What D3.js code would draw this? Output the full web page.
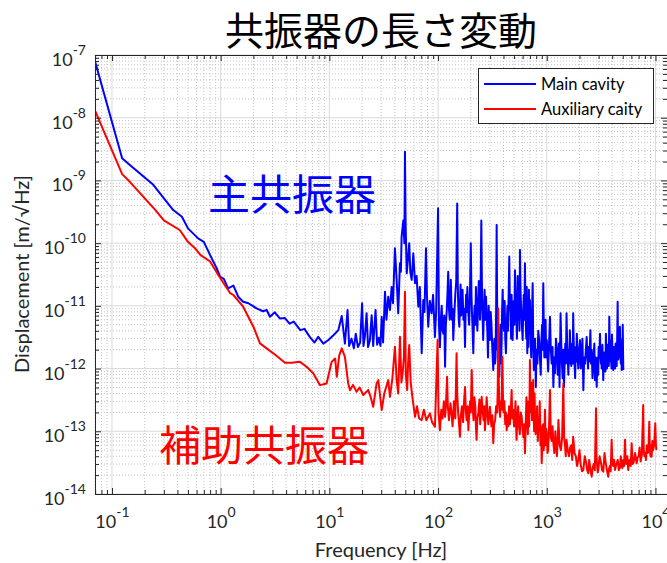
<!DOCTYPE html>
<html>
<head>
<meta charset="utf-8">
<script src="https://cdn.jsdelivr.net/npm/d3@7"></script>
<style>
  html, body { margin: 0; padding: 0; background: #fff; }
  svg { display: block; }
</style>
</head>
<body>
<svg id="chart" width="667" height="563"></svg>
<script>
// Displacement spectral density of the two cavities, [frequency Hz, displacement m/√Hz]
const mainCavity = [
  [0.07, 7.8e-8], [0.124, 2.25e-9], [0.146, 1.76e-9], [0.24, 8.5e-10], [0.366, 3.37e-10],
  [0.44, 2.64e-10], [0.50, 1.72e-10], [0.62, 1.19e-10], [0.70, 1.05e-10], [0.80, 6.45e-11],
  [0.92, 3.96e-11], [0.99, 2.9e-11], [1.07, 2.7e-11], [1.17, 1.9e-11], [1.31, 2.1e-11],
  [1.45, 1.4e-11], [1.61, 1.16e-11], [1.8, 1.1e-11], [2.14, 9.1e-12], [2.45, 8.2e-12],
  [2.65, 8.6e-12], [2.84, 6.7e-12], [3.15, 7.9e-12], [3.5, 6.3e-12], [3.9, 6.4e-12],
  [4.3, 5.2e-12], [4.7, 5.6e-12], [5.4, 4.1e-12], [5.9, 4.3e-12], [6.6, 3.2e-12],
  [7.3, 2.6e-12], [7.9, 3.2e-12], [8.8, 2.5e-12], [9.8, 2.85e-12], [10.9, 3.4e-12],
  [12.1, 4.1e-12], [13.0, 6.9e-12], [13.9, 2.5e-12], [14.7, 8.6e-12], [15.2, 2.3e-12],
  [16.0, 3.0e-12], [16.8, 2.1e-12], [17.5, 3.6e-12], [18.3, 2.2e-12], [19.2, 2.6e-12],
  [20.0, 1.1e-11], [20.6, 2.3e-12], [21.2, 3.2e-12], [22.0, 7.6e-12], [22.7, 2.2e-12],
  [23.6, 2.8e-12], [24.5, 7.1e-12], [25.3, 2.3e-12], [26.6, 8.6e-12], [27.5, 2.4e-12],
  [28.5, 3.1e-12], [29.5, 2.3e-12], [30.3, 6.7e-12], [31.2, 2.6e-12], [32.5, 1.68e-11],
  [33.5, 6e-12], [34.8, 1.4e-11], [36.1, 8.6e-12], [37.4, 2.0e-11], [38.5, 1.1e-11],
  [40.1, 8.3e-11], [41.6, 2.6e-11], [43.0, 7.6e-12], [44.6, 4.8e-11], [45.5, 3.5e-11],
  [46.2, 1.26e-10], [47.9, 2.3e-10], [49.0, 1.0e-10], [49.6, 2.87e-9], [50.3, 2.0e-10],
  [51.5, 3.3e-11], [53.0, 6e-11], [54.3, 1.0e-10], [55.5, 3.5e-11], [57.2, 2.6e-11],
  [59.2, 6.9e-11], [61.4, 2.3e-11], [63.5, 3.0e-11], [65.8, 9.7e-12], [68, 2.0e-11],
  [70.7, 1.75e-12], [73.1, 1.24e-11], [75, 8e-12], [77.4, 8.3e-11], [79, 1.5e-11],
  [81.2, 4.65e-12], [84, 1.2e-11], [87.2, 7.6e-12], [90, 1.5e-11], [93.6, 3.2e-12],
  [96, 8e-12], [100, 3.6e-10], [102, 5e-12], [104, 2.2e-12], [106, 6e-12], [108, 1.0e-11],
  [110, 4e-12], [112, 3.6e-12], [114, 7e-12], [116, 1.07e-12], [118, 5e-12], [120, 8e-12],
  [122, 1.5e-11], [124, 3.5e-11], [126, 9e-12], [128, 6e-12], [130, 1.4e-11], [131, 2.6e-11],
  [134, 6e-12], [136, 9e-12], [138, 2.85e-12], [141, 7e-12], [144, 1.5e-11], [147, 2.5e-11],
  [150, 4.3e-10], [152, 2.0e-11], [153, 1.2e-11], [155, 6e-12], [157, 4.65e-12], [159, 1.0e-11],
  [161, 2.2e-11], [163, 7e-12], [165, 1.24e-11], [168, 1.8e-11], [171, 6e-12], [174, 9e-12],
  [177, 2.2e-12], [179, 7e-12], [181, 1.5e-11], [183, 8e-12], [186, 2.0e-11], [189, 9e-12],
  [193, 5e-12], [196, 1.2e-11], [200, 1.0e-10], [203, 1.5e-11], [205, 8e-12], [208, 4e-12],
  [211, 1.75e-12], [214, 6e-12], [217, 1.0e-11], [220, 5e-12], [223, 2.0e-11], [226, 8e-12],
  [230, 4e-12], [233, 1.0e-11], [237, 2.5e-11], [240, 1.2e-11], [243, 6e-12], [246, 1.5e-11],
  [250, 2.3e-10], [253, 2.5e-11], [255, 9e-12], [258, 5e-12], [260, 2.85e-12], [264, 8e-12],
  [268, 1.8e-11], [272, 6e-12], [276, 1.4e-11], [280, 7e-12], [284, 4e-12], [288, 1.5e-12],
  [292, 1.0e-11], [296, 5e-12], [300, 2.85e-12], [305, 8e-12], [310, 5e-12], [316, 2e-12],
  [322, 9.5e-13], [326, 2e-12], [330, 3e-12], [334, 1.2e-12], [338, 1.5e-12], [342, 8e-12],
  [346, 1.94e-10], [349, 1.5e-11], [352, 2.0e-12], [356, 4e-12], [359, 1.2e-12], [362, 3e-12],
  [366, 7.4e-13], [370, 2e-12], [375, 5e-12], [380, 1.2e-12], [384, 2.5e-12], [388, 8e-12],
  [393, 1.8e-11], [398, 6e-12], [405, 4e-12], [410, 1.2e-11], [415, 3e-12], [421, 1.75e-12],
  [428, 5e-12], [435, 1.0e-11], [440, 4e-12], [446, 1.5e-11], [452, 6.1e-11], [458, 1.0e-11],
  [465, 8e-12], [470, 3e-12], [475, 1.5e-11], [480, 5e-12], [485, 2.85e-12], [491, 7e-12],
  [497, 1.2e-11], [503, 5e-12], [510, 3.7e-11], [517, 1.2e-11], [525, 6e-12], [532, 3e-12],
  [540, 3e-11], [547, 6e-12], [555, 1.0e-11], [561, 4e-12], [567, 7.8e-11], [573, 2e-11],
  [580, 1.0e-11], [590, 5e-12], [600, 2.85e-12], [607, 8e-12], [615, 1.5e-11], [622, 6e-12],
  [630, 4.8e-11], [636, 1.2e-11], [642, 5e-12], [648, 3e-12], [654, 2.0e-11], [658, 6e-12],
  [662, 1.75e-12], [670, 5e-12], [677, 2.2e-12], [685, 1.8e-11], [692, 4e-12], [700, 1.24e-11],
  [710, 3e-12], [720, 1.5e-12], [730, 6e-12], [742, 2.3e-11], [750, 3e-12], [760, 9.5e-13],
  [770, 2.5e-12], [780, 3e-12], [787, 1.2e-12], [793, 5.1e-13], [805, 2e-12], [820, 1.2e-12],
  [835, 4e-12], [850, 3.0e-12], [865, 1.5e-12], [880, 8e-13], [892, 2.5e-12], [905, 5e-12],
  [915, 2e-12], [929, 2.3e-11], [940, 4e-12], [950, 1.5e-12], [962, 2.5e-12], [975, 6e-12],
  [988, 1.5e-12], [1000, 2.85e-12], [1015, 1.8e-12], [1030, 9e-13], [1050, 2.5e-12],
  [1070, 6.7e-12], [1090, 2e-12], [1110, 1.2e-12], [1130, 2.2e-12], [1150, 5.1e-13],
  [1170, 1.5e-12], [1190, 8.4e-13], [1215, 3e-12], [1240, 2.0e-12], [1260, 8e-13],
  [1280, 1.2e-12], [1295, 2.5e-12], [1310, 5.1e-13], [1325, 2e-12], [1340, 7.6e-12],
  [1370, 1.5e-12], [1400, 7e-13], [1420, 2e-12], [1440, 5.1e-13], [1460, 1.2e-12],
  [1480, 2.5e-12], [1500, 1.2e-12], [1520, 7.6e-12], [1540, 2.5e-12], [1560, 1.5e-12],
  [1580, 8e-13], [1600, 2.0e-12], [1615, 1.2e-12], [1630, 4.1e-12], [1655, 2e-12],
  [1680, 1.1e-12], [1700, 1.8e-12], [1720, 2.5e-12], [1735, 1.2e-12], [1750, 7.6e-12],
  [1775, 2.2e-12], [1800, 1.2e-12], [1825, 7e-13], [1850, 2.2e-12], [1870, 1.3e-12],
  [1890, 3.6e-12], [1920, 1.8e-12], [1950, 1.0e-12], [1985, 1.8e-12], [2020, 2.85e-12],
  [2055, 1.0e-12], [2090, 1.54e-12], [2110, 2.2e-12], [2130, 3e-12], [2150, 1.2e-12],
  [2170, 4.5e-13], [2210, 1.5e-12], [2250, 1.2e-12], [2290, 2.0e-12], [2330, 3.2e-12],
  [2365, 1.5e-12], [2400, 1.0e-12], [2425, 2.2e-12], [2450, 1.3e-12], [2485, 2e-12],
  [2520, 4.1e-12], [2555, 1.2e-12], [2590, 2.0e-12], [2635, 7e-13], [2680, 1.2e-12],
  [2710, 1.8e-12], [2740, 2.5e-12], [2760, 1.2e-12], [2780, 6.5e-13], [2830, 1.5e-12],
  [2880, 5.1e-13], [2915, 1.2e-12], [2950, 1.5e-12], [2975, 8e-13], [3000, 2.2e-12],
  [3045, 1.5e-12], [3090, 3.6e-12], [3120, 1.5e-12], [3150, 1.2e-12], [3175, 2e-12],
  [3200, 1.0e-12], [3225, 1.6e-12], [3250, 2.4e-12], [3280, 1.2e-12], [3310, 6.5e-13],
  [3370, 1.8e-12], [3430, 1.54e-12], [3465, 9e-13], [3500, 3.6e-12], [3540, 1.8e-12],
  [3580, 1.0e-12], [3630, 2.4e-12], [3680, 1.75e-12], [3720, 1.1e-12], [3760, 6.7e-12],
  [3795, 2.5e-12], [3830, 1.3e-12], [3865, 2.8e-12], [3900, 1.5e-12], [3940, 1.0e-12],
  [3980, 3.5e-12], [4035, 1.6e-12], [4090, 9.5e-13], [4145, 2.2e-12], [4200, 1.8e-12],
  [4250, 1.0e-12], [4300, 2.5e-12], [4350, 1.5e-12], [4400, 1.1e-12], [4445, 3e-12],
  [4490, 1.16e-11], [4520, 2.5e-12], [4550, 1.4e-12], [4575, 2.2e-12], [4600, 1.5e-12],
  [4655, 2.5e-12], [4710, 4.65e-12], [4755, 2e-12], [4800, 1.2e-12], [4845, 2.5e-12],
  [4890, 9.5e-13], [4920, 1.8e-12], [4950, 3e-12], [4975, 1.5e-12], [5000, 5e-12],
  [5030, 2e-12], [5060, 9.5e-13]
];

const auxCavity = [
  [0.07, 1.29e-8], [0.124, 1.26e-9], [0.146, 9.5e-10], [0.25, 3.4e-10], [0.30, 2.3e-10],
  [0.42, 1.62e-10], [0.50, 1.05e-10], [0.58, 8.3e-11], [0.65, 6.5e-11], [0.80, 5.1e-11],
  [0.95, 3.1e-11], [1.22, 1.6e-11], [1.31, 1.49e-11], [1.61, 9.7e-12], [2.0, 4.65e-12],
  [2.3, 2.52e-12], [2.65, 2.1e-12], [3.05, 1.75e-12], [3.5, 1.45e-12], [3.9, 1.24e-12],
  [4.5, 1.24e-12], [5.37, 1.28e-12], [6.17, 1.07e-12], [7.1, 8.4e-13], [8.18, 5.45e-13],
  [9.43, 5.8e-13], [10.5, 1.28e-12], [11.3, 1.45e-12], [11.7, 7.4e-13], [12.3, 1.6e-12],
  [13.0, 2.1e-12], [13.9, 1.54e-12], [14.9, 5.8e-13], [15.5, 4.5e-13], [16.5, 5.5e-13],
  [17.8, 4.27e-13], [19, 5e-13], [20.5, 3.78e-13], [22.8, 4.54e-13], [24, 3.5e-13],
  [25.3, 2.46e-13], [27.2, 5.8e-13], [28.2, 6.55e-13], [30.3, 2.18e-13], [32, 4e-13],
  [34.8, 6.55e-13], [36.1, 3.55e-13], [38, 7e-13], [40.1, 2.23e-12], [41.6, 6.55e-13],
  [43, 4e-13], [44.6, 3.21e-12], [46, 6e-13], [47.2, 8.4e-13], [48.5, 1.5e-12],
  [49.6, 1.68e-11], [50.5, 8e-13], [52, 4.54e-13], [53, 1.2e-12], [54.3, 2.37e-12],
  [56, 6e-13], [58, 3.55e-13], [61.4, 1.7e-13], [64, 2.5e-13], [67, 1.6e-13],
  [70.7, 1.51e-13], [74, 2.2e-13], [78, 1.5e-13], [84.2, 1.93e-13], [88, 1.4e-13],
  [93.6, 1.18e-13], [99, 2.85e-12], [101, 2e-13], [104, 1.04e-13], [107, 2.2e-13],
  [110, 1.6e-13], [113, 3e-13], [116, 1.7e-13], [118, 2.5e-13], [121, 7.4e-13], [123, 2.5e-13],
  [126, 1.5e-13], [130, 2.8e-13], [133, 1.93e-13], [136, 1.2e-13], [140, 3e-13], [144, 1.6e-13],
  [148, 1.75e-12], [150, 4e-13], [153, 2e-13], [156, 1.3e-13], [159, 8.2e-14], [162, 1.8e-13],
  [166, 2.5e-13], [170, 1.4e-13], [173, 2.8e-13], [177, 5.1e-13], [180, 2.2e-13], [183, 1.5e-13],
  [187, 2.5e-13], [190, 1.04e-13], [193, 1.8e-13], [197, 3e-13], [200, 2e-13], [204, 9.45e-13],
  [208, 2.5e-13], [212, 1.5e-13], [216, 3.5e-13], [220, 2.5e-13], [223, 1.2e-13], [226, 7.3e-14],
  [230, 1.6e-13], [235, 2e-13], [240, 3.2e-13], [244, 1.3e-13], [248, 2e-13], [252, 3.55e-13],
  [257, 2.2e-13], [262, 1.5e-13], [266, 2.5e-13], [270, 1.04e-13], [275, 1.8e-13], [280, 3.5e-13],
  [285, 2e-13], [290, 1.3e-13], [295, 1.8e-13], [300, 2.46e-13], [305, 1.6e-13], [310, 1.2e-13],
  [316, 1.8e-13], [322, 6.45e-14], [328, 1.3e-13], [335, 1.5e-13], [342, 2.5e-13], [350, 2e-13],
  [354, 5e-13], [358, 9.1e-12], [362, 6e-13], [367, 2.5e-13], [372, 1.7e-13], [378, 3e-13],
  [384, 2.2e-13], [390, 1.54e-12], [395, 4e-13], [400, 2e-13], [407, 3e-13], [415, 1.3e-13],
  [421, 2e-13], [428, 1.04e-13], [436, 1.8e-13], [443, 1.2e-13], [450, 2.5e-13], [458, 1.3e-13],
  [466, 2e-13], [475, 4.54e-13], [482, 1.6e-13], [490, 2.2e-13], [500, 1.2e-13], [508, 1.8e-13],
  [516, 3e-13], [522, 1.2e-13], [528, 7.3e-14], [535, 1.5e-13], [545, 2.5e-13], [555, 1.2e-13],
  [565, 9e-14], [576, 2e-13], [588, 1.7e-13], [598, 1.1e-13], [610, 8e-14], [620, 1.3e-13],
  [630, 4.46e-14], [640, 1.2e-13], [650, 3.5e-13], [660, 2e-13], [670, 9e-14], [680, 3e-13],
  [690, 1.2e-13], [700, 1.37e-12], [705, 4e-13], [712, 2e-13], [718, 6e-13], [725, 3e-13],
  [732, 1.5e-13], [740, 2.5e-13], [750, 6.55e-13], [758, 1.8e-13], [765, 1e-13], [773, 4e-13],
  [780, 1.5e-13], [790, 9e-14], [798, 2e-13], [805, 1.34e-13], [815, 2.5e-13], [828, 7e-14],
  [840, 1.6e-13], [850, 1.0e-13], [862, 3e-13], [875, 6e-14], [886, 1.2e-13], [898, 3.09e-14],
  [910, 6e-14], [925, 1.3e-13], [938, 5e-14], [950, 8e-14], [962, 2.2e-13], [975, 6e-14],
  [987, 1.1e-13], [1000, 9.3e-14], [1015, 4.5e-14], [1030, 5e-14], [1050, 1.2e-13],
  [1070, 4.54e-13], [1090, 8e-14], [1110, 7e-14], [1130, 1.2e-13], [1150, 6.45e-14],
  [1175, 4.5e-14], [1200, 1.0e-13], [1220, 6e-14], [1240, 4e-14], [1260, 7e-14],
  [1280, 1.51e-13], [1315, 6e-14], [1350, 5e-14], [1385, 8e-14], [1420, 5.8e-13],
  [1445, 8e-14], [1470, 6e-14], [1495, 4e-14], [1520, 7.3e-14], [1560, 5e-14], [1600, 4e-14],
  [1640, 5.5e-14], [1680, 6e-14], [1715, 3.5e-14], [1750, 8.2e-14], [1800, 4.5e-14],
  [1850, 4e-14], [1900, 2.8e-14], [1950, 3.49e-14], [2000, 5e-14], [2050, 3e-14],
  [2110, 2.3e-14], [2170, 2.41e-14], [2235, 4e-14], [2300, 3.2e-14], [2355, 2.4e-14],
  [2410, 2.14e-14], [2455, 3.5e-14], [2500, 2.8e-14], [2545, 2.2e-14], [2590, 1.89e-14],
  [2645, 2.6e-14], [2700, 3e-14], [2770, 2.4e-14], [2840, 2.32e-13], [2870, 4e-14],
  [2900, 3e-14], [2940, 2.2e-14], [2980, 2.41e-14], [3060, 4e-14], [3150, 3.2e-14],
  [3230, 2.4e-14], [3310, 2.27e-14], [3400, 4.5e-14], [3500, 3e-14], [3590, 2.3e-14],
  [3680, 1.89e-14], [3740, 2.5e-14], [3800, 2.8e-14], [3875, 2.3e-14], [3950, 7.3e-14],
  [4020, 3e-14], [4100, 2.8e-14], [4170, 3.5e-14], [4240, 2.41e-14], [4370, 3e-14],
  [4500, 3.5e-14], [4600, 2.4e-14], [4700, 2.6e-14], [4800, 4e-14], [4890, 2.72e-14],
  [4970, 2.6e-14], [5050, 3.5e-14], [5150, 2.8e-14], [5250, 7.3e-14], [5320, 3.2e-14],
  [5400, 3e-14], [5510, 4e-14], [5620, 2.41e-14], [5710, 3.2e-14], [5800, 3.5e-14],
  [5920, 2.8e-14], [6040, 6.45e-14], [6170, 3e-14], [6300, 3.2e-14], [6500, 4.5e-14],
  [6710, 3.09e-14], [6850, 3.8e-14], [7000, 4e-14], [7150, 5.5e-14], [7300, 3.3e-14],
  [7500, 4.2e-14], [7710, 2.62e-13], [7800, 5e-14], [7900, 4e-14], [8030, 4.5e-14],
  [8170, 3.49e-14], [8330, 6e-14], [8500, 4.5e-14], [8640, 5e-14], [8770, 1.42e-13],
  [8880, 5e-14], [9000, 4e-14], [9110, 6e-14], [9220, 3.93e-14], [9360, 7e-14], [9500, 5e-14],
  [9730, 6e-14], [9960, 1.34e-13], [10100, 6e-14], [10200, 5.03e-14]
];

const xTickExponents = [-1, 0, 1, 2, 3, 4];
const yTickExponents = [-14, -13, -12, -11, -10, -9, -8, -7];
const seriesNames = ["Main cavity", "Auxiliary caity"];
const seriesColors = ["#0000ff", "#ff0000"];
const titleText = "共振器の長さ変動";
const xLabelText = "Frequency [Hz]";
const yLabelText = "Displacement [m/\u221AHz]";
const mainNote = "主共振器";
const auxNote = "補助共振器";

const plot = { left: 95, right: 667, top: 55, bottom: 494 };
const latin = "Lato, 'Noto Sans', sans-serif";
const cjk = "'Noto Sans CJK JP', 'Noto Sans CJK SC', sans-serif";
const axisColor = "#262626";

const svg = d3.select("#chart");

const x = d3.scaleLog().domain([0.0698, 12770]).range([plot.left, plot.right]);
const y = d3.scaleLog().domain([1e-14, 1e-7]).range([plot.bottom, plot.top]);

// major and minor positions on both log axes
const xMajor = xTickExponents.map(e => Math.pow(10, e));
const yMajor = yTickExponents.map(e => Math.pow(10, e));
const minorOf = (lo, hi, dom) => {
  const out = [];
  for (let e = lo; e <= hi; e++) for (let k = 2; k <= 9; k++) {
    const v = k * Math.pow(10, e);
    if (v > dom[0] && v < dom[1]) out.push(v);
  }
  return out;
};
const xMinor = minorOf(-2, 4, x.domain());
const yMinor = minorOf(-15, -7, y.domain());

// grid
const grid = svg.append("g");
grid.selectAll(".gx-minor").data(xMinor).join("line")
  .attr("x1", d => x(d)).attr("x2", d => x(d)).attr("y1", plot.top).attr("y2", plot.bottom)
  .attr("stroke", "#c4c4c4").attr("stroke-width", 1).attr("stroke-dasharray", "1,2");
grid.selectAll(".gy-minor").data(yMinor).join("line")
  .attr("x1", plot.left).attr("x2", plot.right).attr("y1", d => y(d)).attr("y2", d => y(d))
  .attr("stroke", "#c4c4c4").attr("stroke-width", 1).attr("stroke-dasharray", "1,2");
grid.selectAll(".gx-major").data(xMajor).join("line")
  .attr("x1", d => x(d)).attr("x2", d => x(d)).attr("y1", plot.top).attr("y2", plot.bottom)
  .attr("stroke", "#dadada").attr("stroke-width", 1);
grid.selectAll(".gy-major").data(yMajor).join("line")
  .attr("x1", plot.left).attr("x2", plot.right).attr("y1", d => y(d)).attr("y2", d => y(d))
  .attr("stroke", "#dadada").attr("stroke-width", 1);

// data lines
svg.append("defs").append("clipPath").attr("id", "plotClip")
  .append("rect").attr("x", plot.left).attr("y", plot.top)
  .attr("width", plot.right - plot.left).attr("height", plot.bottom - plot.top);

const line = d3.line().x(d => x(d[0])).y(d => y(d[1]));
const lines = svg.append("g").attr("clip-path", "url(#plotClip)");
[mainCavity, auxCavity].forEach((series, i) => {
  lines.append("path").datum(series)
    .attr("d", line)
    .attr("fill", "none")
    .attr("stroke", seriesColors[i])
    .attr("stroke-width", 2)
    .attr("stroke-linejoin", "round");
});

// axes with inward ticks, box on all four sides
function styleAxis(g) {
  g.selectAll("path.domain").attr("stroke", axisColor).attr("stroke-width", 1);
  g.selectAll(".tick line").attr("stroke", axisColor).attr("stroke-width", 1);
}
function powerLabels(g, exps) {
  g.selectAll(".tick text").each(function(d, i) {
    const t = d3.select(this);
    t.text("10");
    t.append("tspan").attr("dy", -11).attr("font-size", 14).text(String(exps[i]));
  });
}

const xb = svg.append("g").attr("transform", `translate(0,${plot.bottom})`)
  .call(d3.axisBottom(x).tickValues(xMinor).tickSizeInner(-4).tickSizeOuter(0).tickFormat(""));
const xbMaj = svg.append("g").attr("transform", `translate(0,${plot.bottom})`)
  .call(d3.axisBottom(x).tickValues(xMajor).tickSizeInner(-6).tickSizeOuter(0));
xbMaj.selectAll(".tick text").attr("y", 34).attr("dy", 0)
  .attr("font-family", latin).attr("font-size", 18).attr("fill", axisColor);
powerLabels(xbMaj, xTickExponents);
xbMaj.select("path.domain").remove();

const xt = svg.append("g").attr("transform", `translate(0,${plot.top})`)
  .call(d3.axisTop(x).tickValues(xMinor).tickSizeInner(-4).tickSizeOuter(0).tickFormat(""));
const xtMaj = svg.append("g").attr("transform", `translate(0,${plot.top})`)
  .call(d3.axisTop(x).tickValues(xMajor).tickSizeInner(-6).tickSizeOuter(0).tickFormat(""));
xtMaj.select("path.domain").remove();

const yl = svg.append("g").attr("transform", `translate(${plot.left},0)`)
  .call(d3.axisLeft(y).tickValues(yMinor).tickSizeInner(-4).tickSizeOuter(0).tickFormat(""));
const ylMaj = svg.append("g").attr("transform", `translate(${plot.left},0)`)
  .call(d3.axisLeft(y).tickValues(yMajor).tickSizeInner(-6).tickSizeOuter(0));
ylMaj.selectAll(".tick text").attr("x", -9).attr("dy", 10.5)
  .attr("text-anchor", "end")
  .attr("font-family", latin).attr("font-size", 18).attr("fill", axisColor);
powerLabels(ylMaj, yTickExponents);
ylMaj.select("path.domain").remove();

const yr = svg.append("g").attr("transform", `translate(${plot.right},0)`)
  .call(d3.axisRight(y).tickValues(yMinor).tickSizeInner(-4).tickSizeOuter(0).tickFormat(""));
const yrMaj = svg.append("g").attr("transform", `translate(${plot.right},0)`)
  .call(d3.axisRight(y).tickValues(yMajor).tickSizeInner(-6).tickSizeOuter(0).tickFormat(""));
yrMaj.select("path.domain").remove();

[xb, xbMaj, xt, xtMaj, yl, ylMaj, yr, yrMaj].forEach(styleAxis);

// axis titles
svg.append("text")
  .attr("x", 381).attr("y", 557)
  .attr("text-anchor", "middle")
  .attr("font-family", latin).attr("font-size", 20).attr("fill", axisColor)
  .text(xLabelText);

svg.append("text")
  .attr("transform", "translate(29,274) rotate(-90)")
  .attr("text-anchor", "middle")
  .attr("font-family", latin).attr("font-size", 20).attr("fill", axisColor)
  .text(yLabelText);

// chart title
svg.append("text")
  .attr("x", 381).attr("y", 45)
  .attr("text-anchor", "middle")
  .attr("font-family", cjk).attr("font-size", 39).attr("fill", "#000")
  .text(titleText);

// in-plot annotations
svg.append("text")
  .attr("x", 208).attr("y", 210)
  .attr("font-family", cjk).attr("font-size", 42).attr("fill", seriesColors[0])
  .text(mainNote);
svg.append("text")
  .attr("x", 159).attr("y", 461)
  .attr("font-family", cjk).attr("font-size", 42).attr("fill", seriesColors[1])
  .text(auxNote);

// legend
const legend = svg.append("g");
legend.append("rect")
  .attr("x", 478.5).attr("y", 68.5).attr("width", 175).attr("height", 55)
  .attr("fill", "#fff").attr("stroke", "#262626").attr("stroke-width", 1);
seriesNames.forEach((name, i) => {
  const ly = 84 + i * 25;
  legend.append("line")
    .attr("x1", 484).attr("x2", 536).attr("y1", ly).attr("y2", ly)
    .attr("stroke", seriesColors[i]).attr("stroke-width", 2);
  legend.append("text")
    .attr("x", 541).attr("y", ly + 5.5)
    .attr("font-family", latin).attr("font-size", 16.5).attr("fill", "#000")
    .text(name);
});
</script>
</body>
</html>
